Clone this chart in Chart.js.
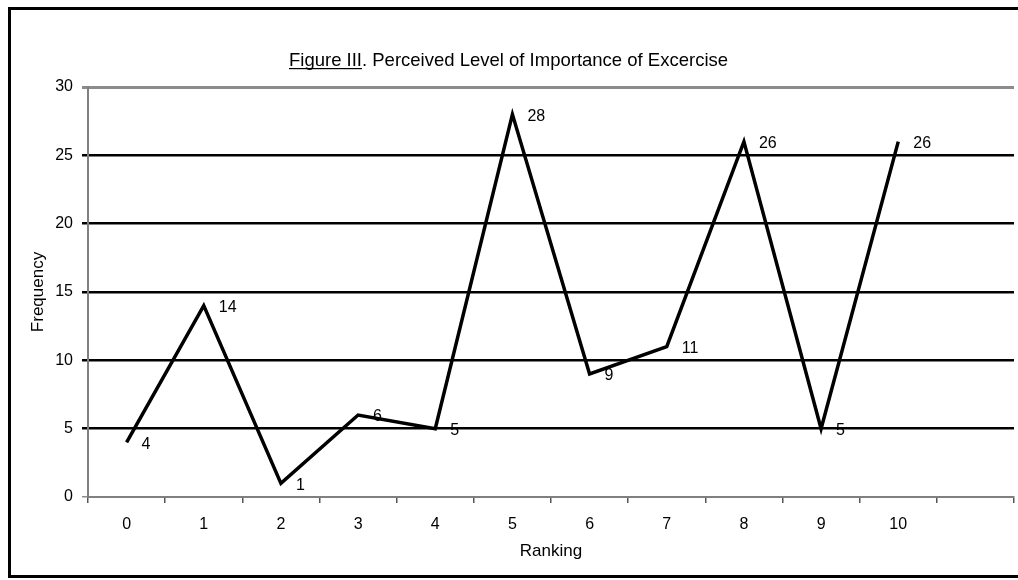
<!DOCTYPE html>
<html lang="en">
<head>
  <meta charset="UTF-8" />
  <meta name="viewport" content="width=device-width, initial-scale=1.0"/>
  <title>Figure III - Perceived Level of Importance of Excercise</title>
  <script src="https://cdn.jsdelivr.net/npm/chart.js"></script>
  <style>
    html, body {
      margin: 0;
      padding: 0;
      background-color: #ffffff;
    }

    #wrap {
      width: 1018px;
      height: 580px;
    }
  </style>
</head>
<body>
  <div id="wrap">
    <canvas id="importanceChart" width="1018" height="580"></canvas>
  </div>

  <script>
    // survey data
    const rankings = ["0", "1", "2", "3", "4", "5", "6", "7", "8", "9", "10", ""];
    const frequency = [4, 14, 1, 6, 5, 28, 9, 11, 26, 5, 26];
    const yMin = 0;
    const yMax = 30;
    const yStep = 5;

    const titleLead = "Figure III";
    const titleRest = ". Perceived Level of Importance of Excercise";

    const FONT = "'Liberation Sans', Arial, sans-serif";

    // white page plus the thick black frame round everything
    const framePlugin = {
      id: "frame",
      beforeDraw(chart) {
        const ctx = chart.ctx;
        ctx.save();
        ctx.fillStyle = "#ffffff";
        ctx.fillRect(0, 0, chart.width, chart.height);
        ctx.restore();
      },
      afterDraw(chart) {
        const ctx = chart.ctx;
        ctx.save();
        ctx.strokeStyle = "#000000";
        ctx.lineWidth = 3;
        ctx.strokeRect(9.5, 8.5, chart.width + 20, 568);
        ctx.restore();
      }
    };

    // title with the underlined figure number
    const titlePlugin = {
      id: "figTitle",
      afterDraw(chart) {
        const ctx = chart.ctx;
        ctx.save();
        ctx.font = "18.5px " + FONT;
        ctx.fillStyle = "#000000";
        ctx.textBaseline = "alphabetic";
        const w1 = ctx.measureText(titleLead).width;
        const w2 = ctx.measureText(titleRest).width;
        const x0 = Math.round(509 - (w1 + w2) / 2);
        const base = 66;
        ctx.textAlign = "left";
        ctx.fillText(titleLead, x0, base);
        ctx.fillText(titleRest, x0 + w1, base);
        ctx.fillRect(x0, base + 2, w1, 1.2);
        ctx.restore();
      }
    };

    // value written to the right of each point
    const valueLabels = {
      id: "valueLabels",
      afterDatasetsDraw(chart) {
        const ctx = chart.ctx;
        const meta = chart.getDatasetMeta(0);
        ctx.save();
        ctx.font = "16px " + FONT;
        ctx.fillStyle = "#000000";
        ctx.textAlign = "left";
        ctx.textBaseline = "middle";
        meta.data.forEach((pt, i) => {
          const v = frequency[i];
          if (v === null || v === undefined) return;
          ctx.fillText(String(v), pt.x + 15, pt.y + 2);
        });
        ctx.restore();
      }
    };

    new Chart(document.getElementById("importanceChart"), {
      type: "line",
      data: {
        labels: rankings,
        datasets: [{
          label: "Frequency",
          data: frequency,
          borderColor: "#000000",
          borderWidth: 3.5,
          pointRadius: 0,
          pointHoverRadius: 0,
          tension: 0,
          fill: false
        }]
      },
      options: {
        responsive: false,
        animation: false,
        devicePixelRatio: 1,
        layout: {
          padding: { top: 87, right: 4, left: 0, bottom: 0 }
        },
        plugins: {
          legend: { display: false },
          title: { display: false },
          tooltip: { enabled: false }
        },
        scales: {
          x: {
            type: "category",
            offset: true,
            grid: {
              offset: true,
              drawOnChartArea: false,
              color: "#555555",
              lineWidth: 1.5,
              tickLength: 6
            },
            border: { color: "#808080", width: 2 },
            ticks: {
              autoSkip: false,
              maxRotation: 0,
              padding: 12,
              color: "#000000",
              font: { family: FONT, size: 16 }
            },
            title: {
              display: true,
              text: "Ranking",
              color: "#000000",
              font: { family: FONT, size: 17 },
              padding: { top: 0, bottom: 18 }
            },
            afterFit(scale) {
              scale.height = 83;
            }
          },
          y: {
            min: yMin,
            max: yMax,
            ticks: {
              stepSize: yStep,
              padding: 9,
              color: "#000000",
              font: { family: FONT, size: 16 }
            },
            grid: {
              tickLength: 6,
              color: (c) => {
                const v = c.tick ? c.tick.value : null;
                if (v === yMin || v === yMax) return "#8c8c8c";
                return "#000000";
              },
              lineWidth: (c) => {
                const v = c.tick ? c.tick.value : null;
                if (v === yMax) return 3;
                if (v === yMin) return 1.5;
                return 2.5;
              }
            },
            border: { color: "#808080", width: 2 },
            title: {
              display: true,
              text: "Frequency",
              color: "#000000",
              font: { family: FONT, size: 17 },
              padding: { top: 28 }
            },
            afterFit(scale) {
              scale.width = 88;
            }
          }
        }
      },
      plugins: [framePlugin, titlePlugin, valueLabels]
    });
  </script>
</body>
</html>
